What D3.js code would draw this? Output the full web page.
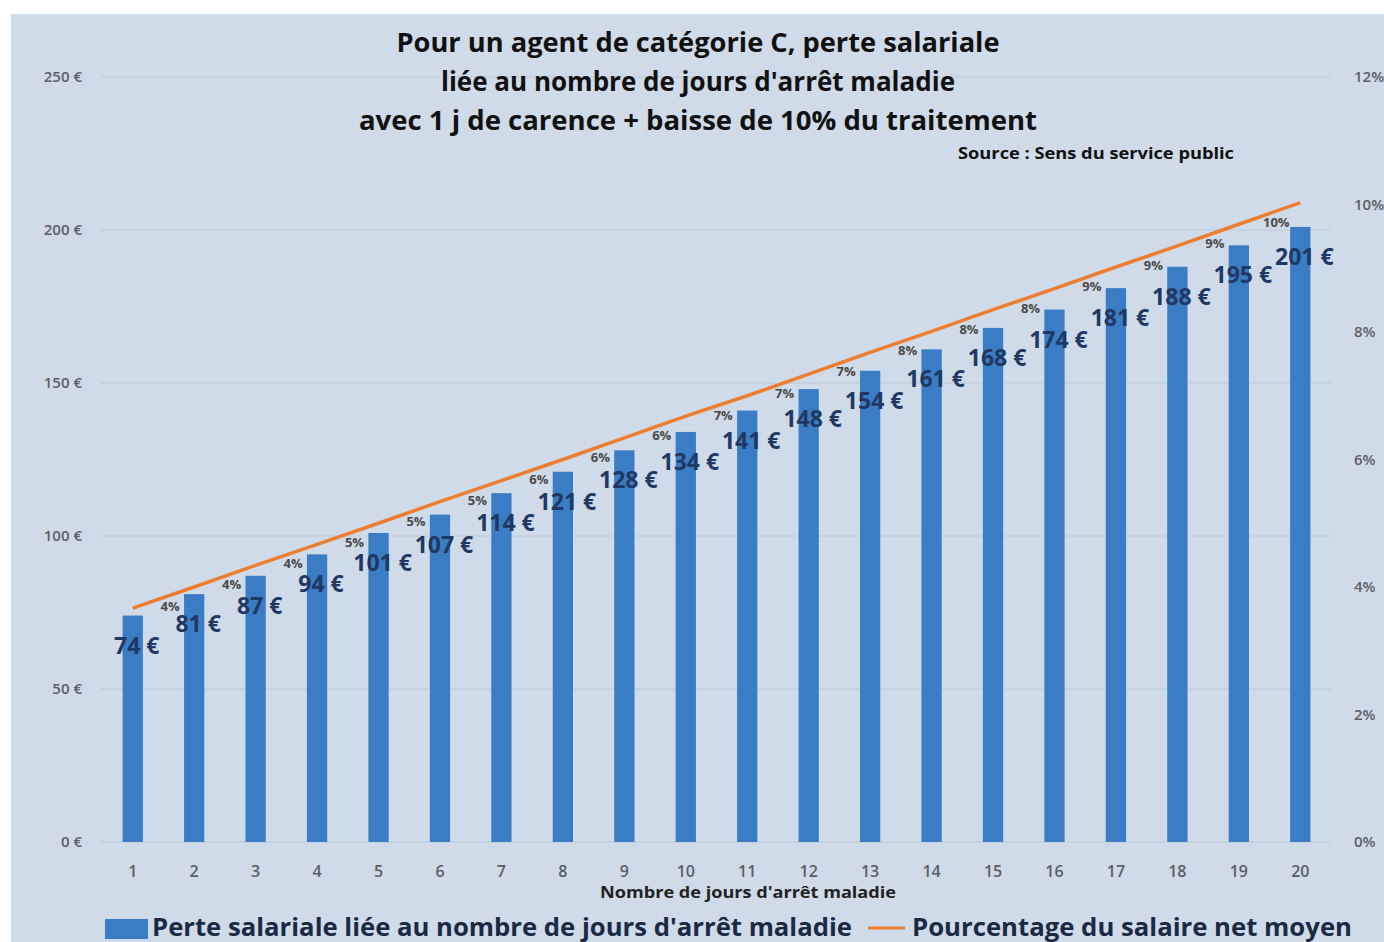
<!DOCTYPE html>
<html>
  <head>
    <style>
    body {
      margin: 0;
      background: #fff;
    }
    text { font-family: "Open Sans", sans-serif; }
    </style>
  </head>
  <body>
    <script src="https://d3js.org/d3.v7.min.js"></script>
    <script>

// données
var jours = [1,2,3,4,5,6,7,8,9,10,11,12,13,14,15,16,17,18,19,20];
var perte = [74,81,87,94,101,107,114,121,128,134,141,148,154,161,168,174,181,188,195,201];
var pourcent = [3.67,4.0,4.34,4.67,5.0,5.34,5.67,6.0,6.34,6.68,7.0,7.34,7.68,8.01,8.35,8.68,9.02,9.35,9.69,10.03];
var pourcentLabels = ["","4%","4%","4%","5%","5%","5%","6%","6%","6%","7%","7%","7%","8%","8%","8%","9%","9%","9%","10%"];
var euroTicks = [0,50,100,150,200,250];
var pctTicks = [0,2,4,6,8,10,12];
var titre = ["Pour un agent de catégorie C, perte salariale",
             "liée au nombre de jours d'arrêt maladie",
             "avec 1 j de carence + baisse de 10% du traitement"];

var width = 1384, height = 942;

var svg = d3.select("body").append("svg")
    .attr("width", width)
    .attr("height", height);

svg.append("rect")
    .attr("x", 11).attr("y", 14)
    .attr("width", width - 11).attr("height", height - 14)
    .style("fill", "#cfdbe8");

var x = d3.scaleBand()
    .domain(jours)
    .range([102, 1331])
    .paddingInner(0.67)
    .paddingOuter(0.335);

var y = d3.scaleLinear().domain([0, 250]).range([842, 77]);
var yR = d3.scaleLinear().domain([0, 12]).range([842, 77]);

// grille
svg.selectAll(".grid")
    .data(euroTicks)
  .enter().append("line")
    .attr("class", "grid")
    .attr("x1", 100).attr("x2", 1331)
    .attr("y1", d => y(d)).attr("y2", d => y(d))
    .style("stroke", "#c2d0df")
    .style("stroke-width", 1.5);

// axe gauche
svg.selectAll(".ytick")
    .data(euroTicks)
  .enter().append("text")
    .attr("class", "ytick")
    .attr("x", 82)
    .attr("y", d => y(d) + 5)
    .attr("text-anchor", "end")
    .style("font-size", "15px").style("font-weight", "600")
    .style("fill", "#5a5f66")
    .text(d => d + " €");

// axe droit
svg.selectAll(".yrtick")
    .data(pctTicks)
  .enter().append("text")
    .attr("class", "yrtick")
    .attr("x", 1354)
    .attr("y", d => yR(d) + 5)
    .style("font-size", "15px").style("font-weight", "600")
    .style("fill", "#5a5f66")
    .text(d => d + "%");

// axe x
svg.selectAll(".xtick")
    .data(jours)
  .enter().append("text")
    .attr("class", "xtick")
    .attr("x", d => x(d) + x.bandwidth() / 2)
    .attr("y", 877)
    .attr("text-anchor", "middle")
    .style("font-size", "16px").style("font-weight", "600")
    .style("fill", "#5a5f66")
    .text(d => d);

svg.append("text")
    .attr("x", 748).attr("y", 898)
    .attr("text-anchor", "middle")
    .attr("textLength", 296).attr("lengthAdjust", "spacingAndGlyphs")
    .style("font-size", "16px").style("font-weight", "bold")
    .style("fill", "#222")
    .text("Nombre de jours d'arrêt maladie");

// barres
svg.selectAll(".bar")
    .data(jours)
  .enter().append("rect")
    .attr("class", "bar")
    .attr("x", d => x(d))
    .attr("y", (d, i) => y(perte[i]))
    .attr("width", x.bandwidth())
    .attr("height", (d, i) => y(0) - y(perte[i]))
    .style("fill", "#3b7dc4");

// ligne
var line = d3.line()
    .x((d, i) => x(jours[i]) + x.bandwidth() / 2)
    .y(d => yR(d));

svg.append("path")
    .datum(pourcent)
    .attr("d", line)
    .style("fill", "none")
    .style("stroke", "#ed7d31")
    .style("stroke-width", 3.5);

// étiquettes %
svg.selectAll(".pct")
    .data(jours)
  .enter().append("text")
    .attr("class", "pct")
    .attr("x", d => x(d) + x.bandwidth() / 2 - 24)
    .attr("y", (d, i) => yR(pourcent[i]) + 24)
    .attr("text-anchor", "middle")
    .style("font-size", "13px").style("font-weight", "bold")
    .style("fill", "#4a4a4a")
    .text((d, i) => pourcentLabels[i]);

// étiquettes €
svg.selectAll(".val")
    .data(jours)
  .enter().append("text")
    .attr("class", "val")
    .attr("x", d => x(d) + x.bandwidth() / 2 + 4)
    .attr("y", (d, i) => y(perte[i]) + 38)
    .attr("text-anchor", "middle")
    .style("font-size", "23px").style("font-weight", "bold")
    .style("fill", "#1f3864")
    .text((d, i) => perte[i] + " €");

// titre
var titreW = [603, 514, 678];
svg.selectAll(".titre")
    .data(titre)
  .enter().append("text")
    .attr("class", "titre")
    .attr("x", 698)
    .attr("y", (d, i) => 52 + i * 39)
    .attr("text-anchor", "middle")
    .attr("textLength", (d, i) => titreW[i]).attr("lengthAdjust", "spacingAndGlyphs")
    .style("font-size", "26px").style("font-weight", "bold")
    .style("fill", "#111")
    .text(d => d);

svg.append("text")
    .attr("x", 958).attr("y", 159)
    .attr("textLength", 276).attr("lengthAdjust", "spacingAndGlyphs")
    .style("font-size", "16px").style("font-weight", "bold")
    .style("fill", "#111")
    .text("Source : Sens du service public");

// légende
svg.append("rect")
    .attr("x", 105).attr("y", 919)
    .attr("width", 43).attr("height", 20)
    .style("fill", "#3b7dc4");

svg.append("text")
    .attr("x", 152).attr("y", 936)
    .attr("textLength", 700).attr("lengthAdjust", "spacingAndGlyphs")
    .style("font-size", "25px").style("font-weight", "bold")
    .style("fill", "#1a2a44")
    .text("Perte salariale liée au nombre de jours d'arrêt maladie");

svg.append("line")
    .attr("x1", 868).attr("x2", 905)
    .attr("y1", 928).attr("y2", 928)
    .style("stroke", "#ed7d31")
    .style("stroke-width", 3);

svg.append("text")
    .attr("x", 912).attr("y", 936)
    .attr("textLength", 440).attr("lengthAdjust", "spacingAndGlyphs")
    .style("font-size", "25px").style("font-weight", "bold")
    .style("fill", "#1a2a44")
    .text("Pourcentage du salaire net moyen");

    </script>
  </body>
</html>
